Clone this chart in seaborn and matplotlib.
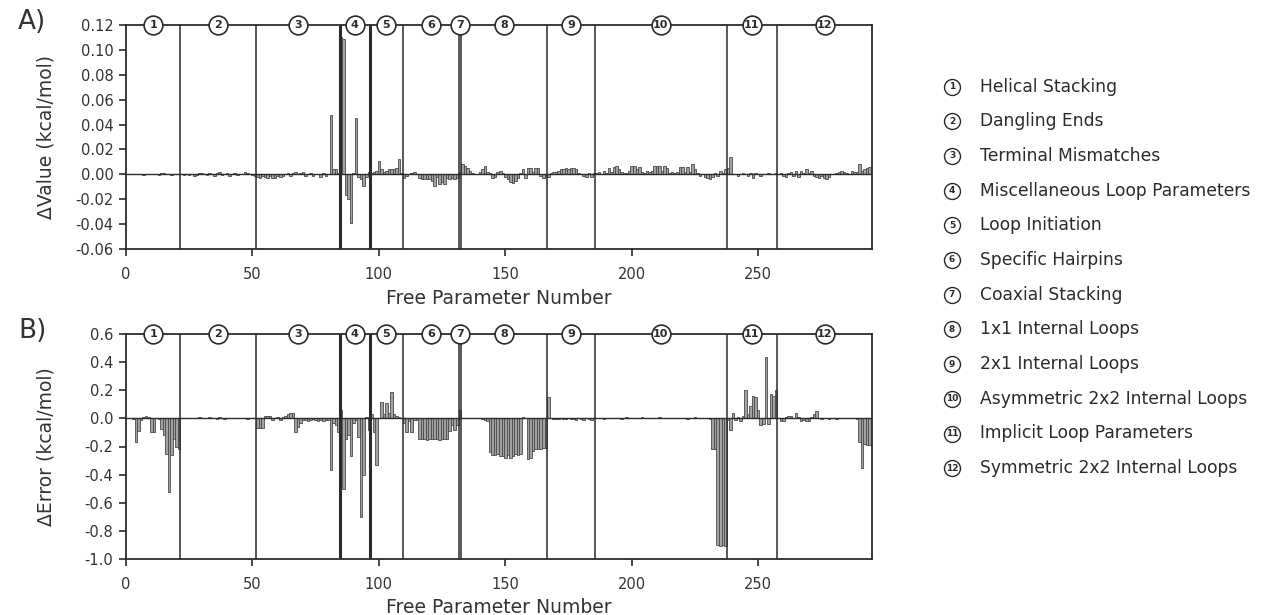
import numpy as np
import pandas as pd
import matplotlib
matplotlib.use("Agg")
import matplotlib.pyplot as plt
from matplotlib.ticker import FormatStrFormatter
import seaborn as sns

# parameter classes, in order along the x axis
group_names = [
    "Helical Stacking", "Dangling Ends", "Terminal Mismatches",
    "Miscellaneous Loop Parameters", "Loop Initiation", "Specific Hairpins",
    "Coaxial Stacking", "1x1 Internal Loops", "2x1 Internal Loops",
    "Asymmetric 2x2 Internal Loops", "Implicit Loop Parameters",
    "Symmetric 2x2 Internal Loops",
]
group_sizes = [21, 30, 33, 12, 13, 22, 1, 34, 19, 52, 20, 37]

# --- A) change in parameter value (kcal/mol), one list per class ---
dv_helical = [0.0002, 0.0, 0.0, 0.0003, 0.0, 0.0, -0.0002, 0.0, 0.0002, 0.0,
              0.0, 0.0, -0.0005, 0.0008, 0.0008, 0.0005, 0.0006, -0.0008, 0.0004, 0.0006,
              0.0]
dv_dangling = [0.0, -0.0005, 0.0003, -0.0008, 0.0002, -0.0015, -0.0005, 0.0008, 0.001, 0.0,
               -0.0005, 0.0012, 0.0005, -0.001, 0.0008, 0.0015, -0.0005, 0.0002, 0.0012, -0.0012,
               0.0003, 0.0008, -0.0005, 0.0, 0.0005, 0.0015, 0.0013, 0.0002, -0.0008, -0.0012]
dv_terminal = [-0.002, -0.003, -0.001, -0.002, -0.003, -0.001, -0.003, -0.003, -0.001, -0.002,
               -0.001, 0.0, 0.001, -0.001, 0.001, 0.002, 0.0, 0.001, 0.002, -0.001,
               0.0, 0.001, -0.001, 0.0, 0.0, -0.002, 0.001, -0.001, 0.0, 0.048,
               0.004, 0.004, 0.001]
dv_misc = [0.11, 0.109, -0.017, -0.02, -0.039, 0.001, 0.045, -0.002, -0.004, -0.009, -0.002, 0.002]
dv_init = [0.001, 0.002, 0.003, 0.011, 0.004, 0.002, 0.003, 0.004, 0.004, 0.004, 0.005, 0.0125, 0.001]
dv_hairpin = [-0.003, -0.001, 0.0, 0.001, 0.002, 0.0, -0.003, -0.004, -0.004, -0.004,
              -0.004, -0.005, -0.009, -0.002, -0.008, -0.006, -0.008, -0.003, -0.004, -0.003,
              -0.004, -0.003]
dv_coaxial = [0.002]
dv_1x1 = [0.008, 0.007, 0.005, 0.003, 0.001, 0.0, 0.0, 0.002, 0.004, 0.007,
          0.002, 0.001, -0.003, -0.002, 0.002, 0.003, 0.001, -0.002, -0.004, -0.006,
          -0.007, -0.005, -0.003, 0.001, 0.004, -0.003, 0.005, 0.005, 0.002, 0.005,
          0.005, -0.001, -0.003, -0.002]
dv_2x1 = [-0.002, 0.001, 0.002, 0.002, 0.003, 0.004, 0.004, 0.005, 0.004, 0.005,
          0.005, 0.004, 0.001, 0.0, -0.001, -0.002, 0.001, -0.002, 0.001]
dv_asym2x2 = [0.001, 0.002, 0.0, 0.003, 0.001, 0.005, 0.002, 0.006, 0.007, 0.004,
              0.002, 0.001, 0.001, 0.003, 0.007, 0.007, 0.004, 0.006, 0.002, 0.001,
              0.003, 0.002, 0.003, 0.007, 0.007, 0.007, 0.003, 0.007, 0.005, 0.001,
              0.002, 0.001, 0.002, 0.006, 0.006, 0.002, 0.006, 0.002, 0.008, 0.004,
              0.001, -0.001, 0.0, -0.002, -0.003, -0.004, -0.002, 0.001, -0.001, 0.003,
              0.001, 0.004]
dv_implicit = [0.005, 0.014, 0.0, 0.0, -0.001, 0.0, 0.001, 0.0, -0.001, 0.001,
               -0.003, 0.001, 0.0, -0.001, 0.0, 0.0, 0.001, 0.0, 0.0, 0.001]
dv_sym2x2 = [0.0, 0.001, -0.001, -0.002, 0.001, 0.002, -0.001, 0.003, -0.002, 0.003,
             0.001, 0.004, 0.001, 0.003, -0.001, -0.002, -0.003, -0.001, -0.003, -0.004,
             -0.002, 0.0, 0.0, 0.001, 0.002, 0.003, 0.002, 0.001, 0.0, 0.003,
             0.002, 0.002, 0.008, 0.003, 0.004, 0.005, 0.006]

# --- B) change in prediction error (kcal/mol) ---
de_helical = [0.0, 0.0, -0.005, -0.166, -0.09, -0.01, 0.01, 0.015, 0.01, -0.1,
              -0.1, 0.0, -0.005, -0.075, -0.12, -0.256, -0.52, -0.26, -0.15, -0.2,
              -0.22]
de_dangling = [0.0, 0.0, 0.003, 0.0, 0.005, 0.002, 0.0, 0.008, 0.003, 0.0,
               0.005, 0.01, 0.003, 0.0, -0.005, 0.008, 0.005, -0.003, 0.0, 0.005,
               0.0, 0.005, 0.003, 0.002, 0.005, 0.0, -0.003, 0.0, 0.0, 0.0]
de_terminal = [-0.07, -0.07, -0.07, 0.02, 0.02, 0.02, -0.01, 0.0, 0.01, -0.015,
               0.01, 0.02, 0.03, 0.04, 0.04, -0.1, -0.06, -0.03, -0.01, -0.01,
               -0.02, -0.01, -0.005, -0.01, -0.02, -0.01, -0.02, -0.015, -0.01, -0.37,
               -0.03, -0.05, -0.1]
de_misc = [0.06, -0.5, -0.15, -0.12, -0.27, -0.03, -0.01, -0.13, -0.7, -0.4, 0.01, -0.08]
de_init = [0.03, -0.1, -0.33, 0.0, 0.12, 0.03, 0.11, 0.04, 0.19, 0.03, 0.02, 0.01, 0.005]
de_hairpin = [-0.03, -0.1, -0.02, -0.1, -0.01, -0.01, -0.15, -0.145, -0.15, -0.155,
              -0.15, -0.15, -0.145, -0.15, -0.155, -0.15, -0.15, -0.15, -0.09, -0.05,
              -0.08, -0.05]
de_coaxial = [0.06]
de_1x1 = [0.0, 0.005, 0.0, 0.005, 0.0, 0.0, 0.005, 0.0, -0.005, -0.01,
          -0.02, -0.24, -0.26, -0.26, -0.25, -0.27, -0.27, -0.28, -0.26, -0.28,
          -0.27, -0.25, -0.26, -0.25, 0.01, 0.0, -0.29, -0.28, -0.23, -0.22,
          -0.22, -0.22, -0.21, -0.21]
de_2x1 = [0.15, 0.0, -0.005, -0.005, -0.005, 0.0, -0.005, -0.005, 0.0, -0.005,
          -0.005, -0.01, 0.0, -0.005, -0.01, 0.0, -0.005, -0.01, 0.0]
de_asym2x2 = [0.0, 0.005, 0.0, -0.005, 0.0, 0.005, 0.0, 0.0, 0.005, 0.0,
              -0.005, 0.005, 0.01, 0.0, 0.005, 0.0, 0.0, 0.005, 0.01, 0.005,
              0.0, 0.0, 0.005, 0.0, 0.005, 0.01, 0.005, 0.0, 0.005, 0.0,
              0.0, 0.005, 0.0, 0.005, 0.0, 0.0, -0.005, 0.005, 0.005, 0.01,
              0.0, 0.005, 0.005, 0.0, 0.0, -0.005, -0.22, -0.22, -0.9, -0.91,
              -0.9, -0.91]
de_implicit = [-0.01, -0.08, 0.04, -0.01, 0.01, -0.02, 0.02, 0.2, 0.03, 0.09,
               0.16, 0.15, 0.06, -0.05, -0.04, 0.44, -0.04, 0.17, 0.16, 0.2]
de_sym2x2 = [0.0, -0.02, -0.02, 0.01, 0.02, 0.02, 0.0, 0.04, 0.01, -0.02,
             -0.01, -0.02, -0.02, 0.01, 0.03, 0.05, 0.0, -0.005, 0.0, 0.0,
             -0.005, 0.0, 0.0, -0.005, 0.0, 0.0, 0.0, 0.0, 0.0, 0.0,
             0.0, -0.005, -0.17, -0.35, -0.18, -0.19, -0.19]

dv_groups = [dv_helical, dv_dangling, dv_terminal, dv_misc, dv_init, dv_hairpin,
             dv_coaxial, dv_1x1, dv_2x1, dv_asym2x2, dv_implicit, dv_sym2x2]
de_groups = [de_helical, de_dangling, de_terminal, de_misc, de_init, de_hairpin,
             de_coaxial, de_1x1, de_2x1, de_asym2x2, de_implicit, de_sym2x2]
for n, a, b in zip(group_sizes, dv_groups, de_groups):
    assert len(a) == n and len(b) == n, (n, len(a), len(b))

n_params = sum(group_sizes)
df = pd.DataFrame({
    "param": np.arange(1, n_params + 1),
    "dvalue": np.concatenate(dv_groups),
    "derror": np.concatenate(de_groups),
})

# class boundaries sit between parameters
ends = np.cumsum(group_sizes)
bounds = ends[:-1] + 0.5
starts = np.concatenate([[0.0], bounds])
stops = np.concatenate([bounds, [295.0]])
centers = (starts + stops) / 2
thick = {84.5, 96.5}

sns.set_style("ticks")
plt.rcParams["font.family"] = ["DejaVu Sans"]
plt.rcParams["axes.unicode_minus"] = False

BAR = "#a2a2a2"
EDGE = "#4a4a4a"
INK = "#2b2b2b"

fig = plt.figure(figsize=(12.65, 6.15), dpi=100)

# full-figure overlay in pixel units for panel letters and the key
ov = fig.add_axes([0, 0, 1, 1])
ov.set_xlim(0, 1265)
ov.set_ylim(615, 0)
ov.axis("off")


def draw_panel(ax, col, ylim, ystep, fmt, ylabel):
    sns.barplot(data=df, x="param", y=col, native_scale=True, orient="x",
                width=1, color=BAR, saturation=1, edgecolor=EDGE,
                linewidth=0.6, errorbar=None, ax=ax)
    ax.axhline(0, color=INK, lw=1.0, zorder=3)
    for b in bounds:
        ax.axvline(b, color=INK, lw=2.2 if b in thick else 1.1, zorder=3)
    ax.set_xlim(0, 295)
    ax.set_ylim(*ylim)
    ticks = np.round(np.arange(ylim[0], ylim[1] + ystep / 2, ystep), 3) + 0.0
    ticks[np.abs(ticks) < 1e-9] = 0.0
    ax.set_yticks(ticks)
    ax.yaxis.set_major_formatter(FormatStrFormatter(fmt))
    ax.set_xticks([0, 50, 100, 150, 200, 250])
    for s in ax.spines.values():
        s.set_visible(True)
        s.set_color(INK)
        s.set_linewidth(1.3)
    ax.tick_params(axis="both", direction="out", length=5, width=1.2,
                   color=INK, labelcolor="#333333", labelsize=10.5)
    ax.tick_params(axis="x", pad=8)
    ax.tick_params(axis="y", pad=4)
    ax.set_ylabel(ylabel, fontsize=13.5, color="#333333")
    ax.set_xlabel("Free Parameter Number", fontsize=13.5, color="#333333", va="top")
    ax.yaxis.set_label_coords(-0.095, 0.5)
    # circled class numbers sitting on the top spine
    ax.plot(centers, [ylim[1]] * len(centers), "o", ms=13.5, mfc="white",
            mec=INK, mew=1.2, clip_on=False, zorder=6)
    for i, c in enumerate(centers):
        ax.text(c, ylim[1], str(i + 1), ha="center", va="center", fontsize=8,
                fontweight="semibold", color=INK, zorder=7, clip_on=False)


axA = fig.add_axes([126 / 1265, 1 - 249 / 615, 746 / 1265, 224 / 615])
draw_panel(axA, "dvalue", (-0.06, 0.12), 0.02, "%.2f", "\u0394Value (kcal/mol)")
axA.xaxis.set_label_coords(0.5, -0.178)

axB = fig.add_axes([126 / 1265, 1 - 559 / 615, 746 / 1265, 225 / 615])
draw_panel(axB, "derror", (-1.0, 0.6), 0.2, "%.1f", "\u0394Error (kcal/mol)")
axB.xaxis.set_label_coords(0.5, -0.172)

ov.text(18, 22, "A)", fontsize=19, ha="left", va="center", color="#333333")
ov.text(18, 331, "B)", fontsize=19, ha="left", va="center", color="#333333")

# key on the right
for i, name in enumerate(group_names):
    y = 86.5 + i * 34.7
    ov.plot(952, y, "o", ms=11.5, mfc="white", mec=INK, mew=1.0)
    ov.text(952, y, str(i + 1), ha="center", va="center", fontsize=6.5,
            fontweight="semibold", color=INK)
    ov.text(980, y, name, ha="left", va="center", fontsize=12.3, color="#2b2b2b")

fig.savefig("out.png", dpi=100)
